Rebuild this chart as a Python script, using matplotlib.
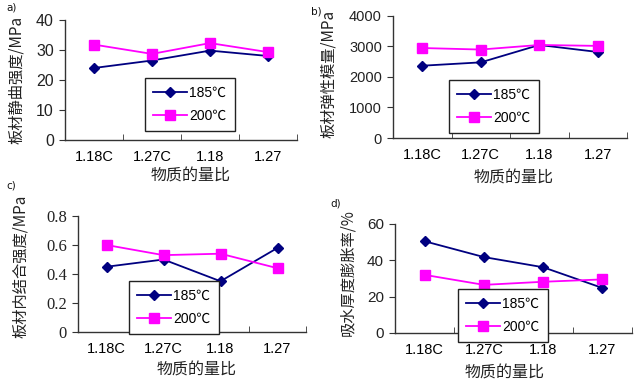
import matplotlib
matplotlib.use("Agg")
import matplotlib.pyplot as plt
from matplotlib.ticker import FixedLocator

plt.rcParams['font.family'] = ['Noto Sans CJK SC', 'DejaVu Sans']

categories = ["1.18C", "1.27C", "1.18", "1.27"]
series_names = ["185℃", "200℃"]

a_185 = [24.0, 26.5, 29.8, 28.0]
a_200 = [31.8, 28.7, 32.3, 29.3]
b_185 = [2370, 2480, 3050, 2820]
b_200 = [2950, 2900, 3050, 3020]
c_185 = [0.45, 0.50, 0.35, 0.58]
c_200 = [0.60, 0.53, 0.54, 0.44]
d_185 = [50.5, 41.8, 36.2, 24.8]
d_200 = [32.0, 26.5, 28.2, 29.5]

a_yticks = [0, 10, 20, 30, 40]
b_yticks = [0, 1000, 2000, 3000, 4000]
c_yticks = [0, 0.2, 0.4, 0.6, 0.8]
c_yticklabels = ["0", "0.2", "0.4", "0.6", "0.8"]
d_yticks = [0, 20, 40, 60]

ylabels = ["板材静曲强度/MPa", "板材弹性模量/MPa", "板材内结合强度/MPa", "吸水厚度膨胀率/%"]
xlabel = "物质的量比"
panel_tags = ["a)", "b)", "c)", "d)"]

W, H = 640, 387
fig = plt.figure(figsize=(6.4, 3.87), dpi=100)
fig.patch.set_facecolor("white")

def px_axes(l, t, r, b):
    return fig.add_axes([l / W, 1 - b / H, (r - l) / W, (b - t) / H])

panels = [
    dict(box=(65, 20, 297, 140), s1=a_185, s2=a_200, yt=a_yticks, ytl=None, ylim=(0, 40),
         leg=(145, 78), ylab=(17, 80), xlab=(191, 176), tag=(6, 8), ytfont=("Liberation Sans", 11.5)),
    dict(box=(393, 16, 627, 138), s1=b_185, s2=b_200, yt=b_yticks, ytl=None, ylim=(0, 4000),
         leg=(449, 80), ylab=(329, 74), xlab=(514, 178), tag=(311, 12), ytfont=("Liberation Sans", 10.5)),
    dict(box=(78, 216, 306, 332), s1=c_185, s2=c_200, yt=c_yticks, ytl=c_yticklabels, ylim=(0, 0.8),
         leg=(129, 281), ylab=(21, 266), xlab=(197, 370), tag=(6, 185), ytfont=("Liberation Serif", 12)),
    dict(box=(395, 224, 632, 333), s1=d_185, s2=d_200, yt=d_yticks, ytl=None, ylim=(0, 60),
         leg=(458, 289), ylab=(348, 273), xlab=(505, 373), tag=(330, 203), ytfont=("Liberation Sans", 11)),
]

x = list(range(len(categories)))

for i, p in enumerate(panels):
    ax = px_axes(*p["box"])
    ax.plot(x, p["s1"], color="#000080", marker="D", markersize=5, linewidth=1.3,
            label=series_names[0], zorder=3)
    ax.plot(x, p["s2"], color="#FF00FF", marker="s", markersize=7.5, linewidth=1.3,
            label=series_names[1], zorder=3)
    ax.set_xlim(-0.5, len(categories) - 0.5)
    ax.set_ylim(*p["ylim"])
    for side in ("top", "right"):
        ax.spines[side].set_visible(False)
    for side in ("left", "bottom"):
        ax.spines[side].set_color("#333333")
        ax.spines[side].set_linewidth(1.0)
    ax.set_xticks(x)
    ax.set_xticklabels(categories, fontfamily="Liberation Sans", fontsize=10.5)
    ax.xaxis.set_minor_locator(FixedLocator([0.5, 1.5, 2.5, 3.5]))
    ax.tick_params(axis="x", which="major", length=0, pad=7)
    ax.tick_params(axis="x", which="minor", length=4, direction="in", color="#333333")
    ax.set_yticks(p["yt"])
    if p["ytl"] is not None:
        ax.set_yticklabels(p["ytl"])
    for lab in ax.get_yticklabels():
        lab.set_fontfamily(p["ytfont"][0])
        lab.set_fontsize(p["ytfont"][1])
        lab.set_color("#222222")
    ax.tick_params(axis="y", length=4, direction="out", pad=4, color="#333333")
    leg = ax.legend(loc="upper left", bbox_to_anchor=(p["leg"][0] / W, 1 - p["leg"][1] / H),
                    bbox_transform=fig.transFigure, borderaxespad=0, frameon=True,
                    fancybox=False, edgecolor="#222222", framealpha=1, handlelength=2.4,
                    labelspacing=0.6, handletextpad=0.2, borderpad=0.6,
                    prop={"family": ["Liberation Sans", "Noto Sans CJK SC"], "size": 10})
    leg.get_frame().set_linewidth(1.0)
    leg.set_zorder(10)
    fig.text(p["ylab"][0] / W, 1 - p["ylab"][1] / H, ylabels[i], rotation=90,
             ha="center", va="center", fontsize=11, color="#222222")
    fig.text(p["xlab"][0] / W, 1 - p["xlab"][1] / H, xlabel,
             ha="center", va="center", fontsize=11.5, color="#222222")
    fig.text(p["tag"][0] / W, 1 - p["tag"][1] / H, panel_tags[i],
             ha="left", va="center", fontsize=7.5, fontfamily="DejaVu Sans", color="#111111")

fig.savefig("out.png", dpi=100, facecolor="white")
